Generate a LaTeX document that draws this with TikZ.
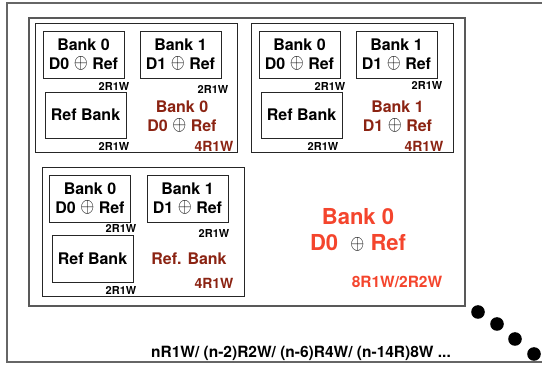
\documentclass[tikz,border=0pt]{standalone}
\usepackage{fontspec}
\setmainfont{TeX Gyre Heros}
\usepackage{graphicx}
\usepackage{tikz}
\definecolor{bankred}{HTML}{8B2312}
\definecolor{bankorange}{HTML}{F4452D}
\newcommand{\xorsym}{{\color{black}\raisebox{0.5pt}{\resizebox{14pt}{12pt}{$\oplus$}}}}

\begin{document}
\begin{tikzpicture}[x=1pt, y=-1pt,
    bank/.style={draw=black!85, line width=0.9pt, minimum width=81pt, minimum height=47pt,
                 inner sep=0pt, align=center, font=\bfseries\fontsize{16}{19}\selectfont},
    ports/.style={inner sep=0pt, font=\bfseries\fontsize{11}{11}\selectfont},
    xorbank/.style={inner sep=0pt, align=center, text=bankred, font=\bfseries\fontsize{16}{19}\selectfont},
    xorports/.style={inner sep=0pt, text=bankred, font=\bfseries\fontsize{14}{14}\selectfont},
    group/.style={draw=black!85, line width=0.9pt},
]
    \useasboundingbox (0,0) rectangle (542,366);
    \clip (0,0) rectangle (542,366);

    % Outer and middle frames
    \draw[black!60, line width=1.2pt] (560,362) -- (7,362) -- (7,3) -- (560,3);
    \draw[black!65, line width=1.2pt] (29,18) rectangle (465,306);

    % Group A: 4R1W for bank 0
    \draw[group] (35,23) rectangle (237,152);
    \node[bank] (a0) at (83.5,54.5) {Bank 0\\D0 \xorsym{} Ref};
    \node[bank] (a1) at (180.5,54.5) {Bank 1\\D1 \xorsym{} Ref};
    \node[bank, minimum height=46pt] (aref) at (85.5,115) {Ref Bank};
    \node[ports] (a0p) at (114,86) {2R1W};
    \node[ports] (a1p) at (213,89) {2R1W};
    \node[ports] (arefp) at (114,146) {2R1W};
    \node[xorbank] (ax) at (182,116.5) {Bank 0\\D0 \xorsym{} Ref};
    \node[xorports] (axp) at (214,146) {4R1W};

    % Group B: 4R1W for bank 1
    \draw[group] (251,23) rectangle (453,152);
    \node[bank] (b0) at (299.5,54.5) {Bank 0\\D0 \xorsym{} Ref};
    \node[bank] (b1) at (396.5,54.5) {Bank 1\\D1 \xorsym{} Ref};
    \node[bank, minimum height=46pt] (bref) at (301.5,115) {Ref Bank};
    \node[ports] (b0p) at (330,86) {2R1W};
    \node[ports] (b1p) at (427,85) {2R1W};
    \node[ports] (brefp) at (323,146) {2R1W};
    \node[xorbank] (bx) at (397.5,116.5) {Bank 1\\D1 \xorsym{} Ref};
    \node[xorports] (bxp) at (424,146) {4R1W};

    % Group C: 4R1W for the reference bank
    \draw[group] (42,167) rectangle (244,296);
    \node[bank] (c0) at (90,198.5) {Bank 0\\D0 \xorsym{} Ref};
    \node[bank] (c1) at (187.5,198.5) {Bank 1\\D1 \xorsym{} Ref};
    \node[bank] (cref) at (92.5,258.5) {Ref Bank};
    \node[ports] (c0p) at (121,228) {2R1W};
    \node[ports] (c1p) at (214,233) {2R1W};
    \node[ports] (crefp) at (121,290) {2R1W};
    \node[xorbank] (cx) at (189,259) {Ref. Bank};
    \node[xorports] (cxp) at (214,283) {4R1W};

    % 8R1W bank
    \node[inner sep=0pt, align=center, text=bankorange, font=\bfseries\fontsize{22}{26}\selectfont] (big)
        at (358,230) {Bank 0\\D0\ \ \xorsym\ Ref};
    \node[inner sep=0pt, text=bankorange, font=\bfseries\fontsize{15.5}{15.5}\selectfont] (bigp) at (397,282) {8R1W/2R2W};

    % Continuation
    \foreach \dx/\dy in {478/312, 497/324, 515/339, 534/354}
        \fill (\dx,\dy) circle (6.8pt);
    \node[inner sep=0pt, font=\bfseries\fontsize{15.5}{15.5}\selectfont] (ports) at (301,353)
        {nR1W/ (n-2)R2W/ (n-6)R4W/ (n-14R)8W ...};
\end{tikzpicture}
\end{document}
